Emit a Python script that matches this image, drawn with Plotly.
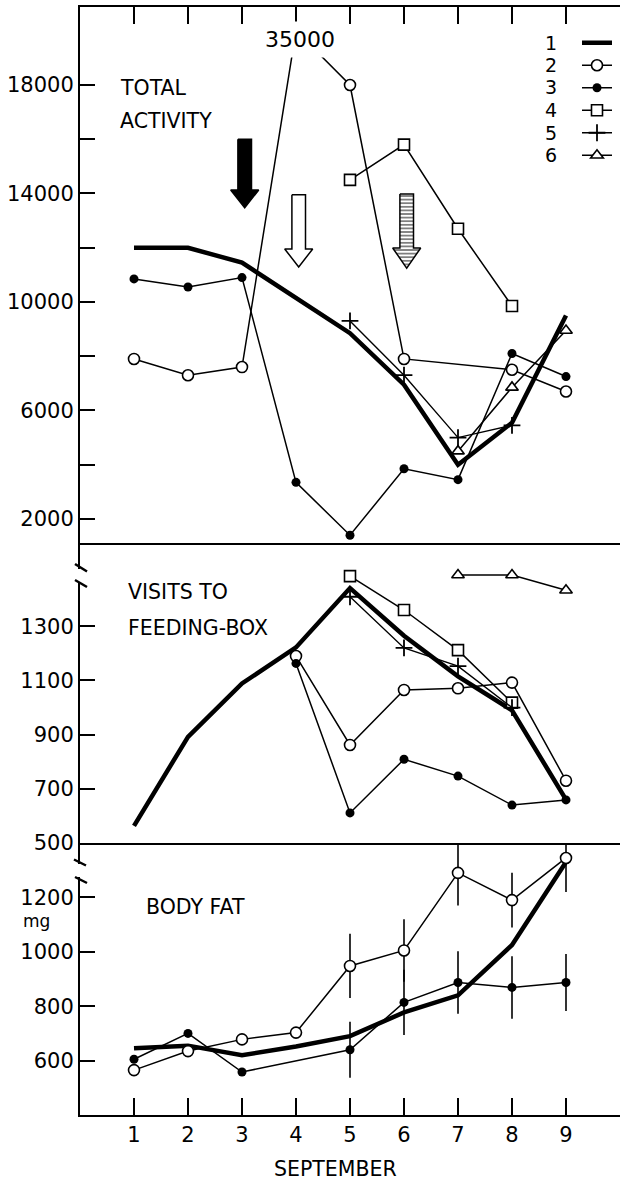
import plotly.graph_objects as go

# ---------------------------------------------------------------- data
DAYS = [1, 2, 3, 4, 5, 6, 7, 8, 9]
GROUPS = ["1", "2", "3", "4", "5", "6"]

# Total activity (counts per day)
ACT_1 = [12000, 12000, 11450, 10150, 8850, 6950, 4000, 5550, 9500]
ACT_2 = [7900, 7300, 7600, 35000, 18000, 7900, None, 7500, 6700]
ACT_3 = [10850, 10550, 10900, 3350, 1400, 3850, 3450, 8100, 7250]
ACT_4 = [None, None, None, None, 14500, 15800, 12700, 9850, None]
ACT_5 = [None, None, None, None, 9300, 7300, 5000, 5450, None]
ACT_6 = [None, None, None, None, None, None, 4500, 6850, 8950]

# Visits to the feeding box
VIS_1 = [563, 892, 1089, 1222, 1441, 1265, 1115, 990, 660]
VIS_2 = [None, None, None, 1190, 862, 1065, 1071, 1092, 730]
VIS_3 = [None, None, None, 1163, 611, 809, 747, 640, 659]
VIS_4 = [None, None, None, None, 1485, 1360, 1212, 1018, None]
VIS_5 = [None, None, None, None, 1409, 1220, 1153, 1000, None]
VIS_6 = [None, None, None, None, None, None, 1489, 1489, 1433]

# Body fat (mg) with error half-widths
FAT_1 = [645, 655, 620, 652, 690, 777, 840, 1025, 1330]
FAT_2 = [565, 635, 678, 703, 948, 1005, 1290, 1190, 1345]
FAT_3 = [605, 700, 558, None, 640, 814, 887, 869, 887]
FAT_2_ERR = [0, 0, 0, 0, 118, 115, 120, 101, 125]
FAT_3_ERR = [0, 0, 0, 0, 103, 120, 115, 115, 105]

# days marked by the arrows in the activity panel
EVENT_DAYS = [3, 4, 6]

ACT_TICKS = [2000, 4000, 6000, 8000, 10000, 12000, 14000, 16000, 18000]
ACT_TICK_TEXT = ["2000", "", "6000", "", "10000", "", "14000", "", "18000"]
VIS_TICKS = [500, 700, 900, 1100, 1300]
FAT_TICKS = [600, 800, 1000, 1200]

# ---------------------------------------------------------------- layout constants
W, H = 620, 1180
ML, MR, MT, MB = 80, 0, 7, 65
PLOT_W = W - ML - MR
PLOT_H = H - MT - MB
ACT_MAX_DRAWN = 20000          # off-scale values are drawn up to this level
FONT = "DejaVu Sans, Liberation Sans, Arial, sans-serif"
INK = "black"


def px_x(px):
    return (px - ML) / PLOT_W


def px_y(py):
    return (H - MB - py) / PLOT_H


DOM_TOP = [px_y(545), 1.0]
DOM_MID = [px_y(843), px_y(545)]
DOM_BOT = [0.0, px_y(843)]

STYLES = {
    "1": dict(mode="lines", line=dict(color=INK, width=4.5)),
    "2": dict(mode="lines+markers", line=dict(color=INK, width=1.5),
              marker=dict(symbol="circle", size=11, color="white",
                          line=dict(color=INK, width=1.6))),
    "3": dict(mode="lines+markers", line=dict(color=INK, width=1.5),
              marker=dict(symbol="circle", size=9, color=INK,
                          line=dict(color=INK, width=0))),
    "4": dict(mode="lines+markers", line=dict(color=INK, width=1.5),
              marker=dict(symbol="square", size=11, color="white",
                          line=dict(color=INK, width=1.6))),
    "5": dict(mode="lines+markers", line=dict(color=INK, width=1.4),
              marker=dict(symbol="cross-thin", size=12, color=INK,
                          line=dict(color=INK, width=1.8))),
    "6": dict(mode="lines+markers", line=dict(color=INK, width=1.5),
              marker=dict(symbol="triangle-up", size=11, color="white",
                          line=dict(color=INK, width=1.6))),
}

fig = go.Figure()

# ---------------------------------------------------------------- arrows (top panel)
ARROW_STYLES = [
    dict(top=16000, base=14130, tip=13470, kind="solid"),
    dict(top=13950, base=11955, tip=11290, kind="open"),
    dict(top=13980, base=11990, tip=11250, kind="striped"),
]
SHAFT = 6.8 / 54.0
HEAD = 14.0 / 54.0
for day, st in zip(EVENT_DAYS, ARROW_STYLES):
    cx = day + 0.05
    xs = [cx - SHAFT, cx + SHAFT, cx + SHAFT, cx + HEAD, cx, cx - HEAD,
          cx - SHAFT, cx - SHAFT]
    ys = [st["top"], st["top"], st["base"], st["base"], st["tip"],
          st["base"], st["base"], st["top"]]
    kw = dict(x=xs, y=ys, xaxis="x3", yaxis="y", mode="lines",
              fill="toself", line=dict(color=INK, width=1.5),
              showlegend=False, hoverinfo="skip")
    if st["kind"] == "solid":
        kw["fillcolor"] = INK
    elif st["kind"] == "open":
        kw["fillcolor"] = "white"
    else:
        kw["fillcolor"] = "white"
        kw["fillpattern"] = dict(shape="-", size=3.6, solidity=0.5,
                                 fgcolor=INK, bgcolor="white")
    fig.add_trace(go.Scatter(**kw))

# ---------------------------------------------------------------- series
act = [ACT_1, ACT_2, ACT_3, ACT_4, ACT_5, ACT_6]
vis = [VIS_1, VIS_2, VIS_3, VIS_4, VIS_5, VIS_6]
fat = [FAT_1, FAT_2, FAT_3]
fat_err = [None, FAT_2_ERR, FAT_3_ERR]

for g, vals in zip(GROUPS, act):
    drawn = [None if v is None else min(v, ACT_MAX_DRAWN) for v in vals]
    fig.add_trace(go.Scatter(x=DAYS, y=drawn, xaxis="x3", yaxis="y",
                             name=" ", legendgroup=g, showlegend=True,
                             connectgaps=True, cliponaxis=True,
                             **STYLES[g]))

for g, vals in zip(GROUPS, vis):
    fig.add_trace(go.Scatter(x=DAYS, y=vals, xaxis="x2", yaxis="y2",
                             name=g, legendgroup=g, showlegend=False,
                             connectgaps=True, **STYLES[g]))

for g, vals, err in zip(GROUPS, fat, fat_err):
    extra = {}
    if err is not None:
        extra["error_y"] = dict(type="data", array=err, visible=True,
                                color=INK, thickness=1.6, width=0)
    fig.add_trace(go.Scatter(x=DAYS, y=vals, xaxis="x", yaxis="y3",
                             name=g, legendgroup=g, showlegend=False,
                             connectgaps=True, **STYLES[g], **extra))

# ---------------------------------------------------------------- annotations
TXT = dict(family=FONT, size=21, color=INK)
ann = []


def label(text, px, py, xanchor="left", size=20.5):
    ann.append(dict(text=text, x=px_x(px), y=px_y(py), xref="paper",
                    yref="paper", xanchor=xanchor, yanchor="middle",
                    showarrow=False, font=dict(family=FONT, size=size,
                                               color=INK)))


label("TOTAL", 118, 88)
label("ACTIVITY", 118, 121)
label("VISITS TO", 126, 592)
label("FEEDING-BOX", 126, 628)
label("BODY FAT", 144, 907)
label("mg", 52, 921, xanchor="right", size=17)
label("SEPTEMBER", 335, 1169, xanchor="center")

LEGEND_ROWS = [43, 65, 87, 110, 133, 155]
for g, py in zip(GROUPS, LEGEND_ROWS):
    label(g, 551, py, xanchor="center", size=19)

# value of the off-scale point, written where its line leaves the axis
for d, v in zip(DAYS, ACT_2):
    if v is not None and v > ACT_MAX_DRAWN:
        ann.append(dict(text=f"{v}", x=d, y=ACT_MAX_DRAWN, xref="x3",
                        yref="y", xshift=3.5, yshift=-9, showarrow=False,
                        bgcolor="white", borderpad=5,
                        font=dict(family=FONT, size=22, color=INK)))

# ---------------------------------------------------------------- axis breaks
shapes = []


def gap(py0, py1):
    shapes.append(dict(type="rect", xref="paper", yref="paper",
                       x0=px_x(74), x1=px_x(87), y0=px_y(py1), y1=px_y(py0),
                       fillcolor="white", line=dict(width=0), layer="above"))


def slash(p0, p1):
    shapes.append(dict(type="line", xref="paper", yref="paper",
                       x0=px_x(p0[0]), y0=px_y(p0[1]),
                       x1=px_x(p1[0]), y1=px_y(p1[1]),
                       line=dict(color=INK, width=2.5), layer="above"))


gap(569, 582)
slash((75, 564), (87, 571.5))
slash((75, 580), (87, 587))
gap(864, 877)
slash((74, 859.5), (86, 865.5))
slash((75, 877), (87, 883))

# ---------------------------------------------------------------- axes
axis_common = dict(showgrid=False, zeroline=False, showline=True,
                   linecolor=INK, linewidth=2, tickcolor=INK,
                   tickfont=TXT)

fig.update_layout(
    width=W, height=H,
    margin=dict(l=ML, r=MR, t=MT, b=MB, autoexpand=False),
    paper_bgcolor="white", plot_bgcolor="white",
    font=dict(family=FONT, color=INK),
    showlegend=True,
    legend=dict(x=px_x(577), y=px_y(26.5), xanchor="left", yanchor="top",
                xref="paper", yref="paper", bgcolor="rgba(0,0,0,0)",
                borderwidth=0, font=dict(family=FONT, size=15),
                itemwidth=30, tracegroupgap=0, itemclick=False),
    xaxis=dict(axis_common, domain=[0, 1], anchor="y3", range=[0, 10],
               tickvals=DAYS, ticktext=[str(d) for d in DAYS],
               ticks="inside", ticklen=17, tickwidth=1.6),
    xaxis2=dict(axis_common, domain=[0, 1], anchor="y2", matches="x",
                showticklabels=False, ticks="", mirror=True),
    xaxis3=dict(axis_common, domain=[0, 1], anchor="y", matches="x",
                side="top", showticklabels=False, ticks="inside",
                ticklen=17, tickwidth=1.6, tickvals=DAYS),
    yaxis=dict(axis_common, domain=DOM_TOP, anchor="x3",
               range=[1040, 20875], tickvals=ACT_TICKS,
               ticktext=ACT_TICK_TEXT, ticks="inside", ticklen=15,
               tickwidth=1.6),
    yaxis2=dict(axis_common, domain=DOM_MID, anchor="x2",
                range=[500, 1600], tickvals=VIS_TICKS,
                ticktext=[str(v) for v in VIS_TICKS], ticks="inside",
                ticklen=15, tickwidth=1.6),
    yaxis3=dict(axis_common, domain=DOM_BOT, anchor="x",
                range=[400, 1400], tickvals=FAT_TICKS,
                ticktext=[str(v) for v in FAT_TICKS], ticks="inside",
                ticklen=15, tickwidth=1.6),
    annotations=ann,
    shapes=shapes,
)

fig.write_html("out.html")
